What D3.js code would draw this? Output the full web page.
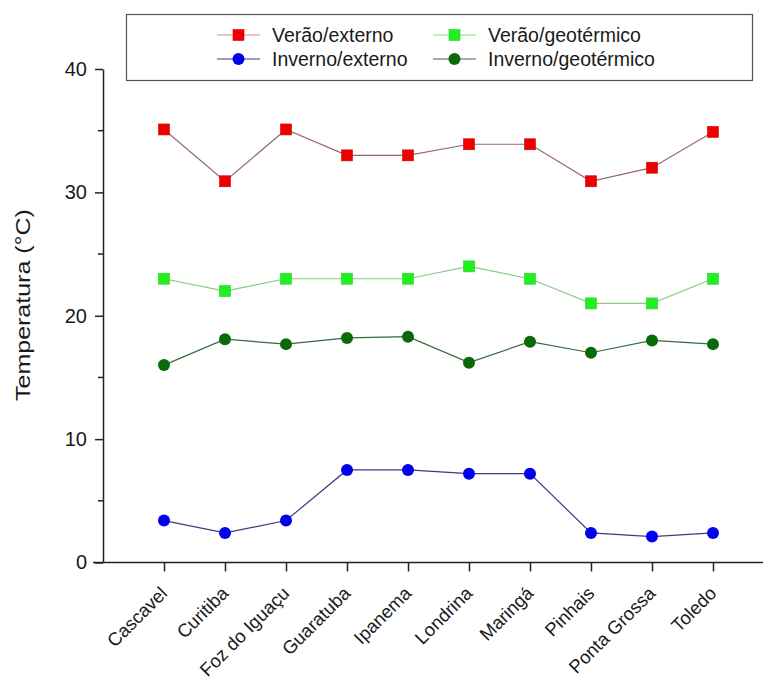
<!DOCTYPE html>
<html>
<head>
<meta charset="utf-8">
<script src="https://cdn.jsdelivr.net/npm/d3@7"></script>
<style>
  body { margin: 0; background: #fff; }
  text { font-family: "Liberation Sans", Arial, sans-serif; fill: #1a1a1a; }
</style>
</head>
<body>
<div id="chart"></div>
<script>
var cities = ["Cascavel", "Curitiba", "Foz do Iguaçu", "Guaratuba", "Ipanema", "Londrina", "Maringá", "Pinhais", "Ponta Grossa", "Toledo"];
var veraoExterno = [35.1, 30.9, 35.1, 33.0, 33.0, 33.9, 33.9, 30.9, 32.0, 34.9];
var veraoGeo = [23, 22, 23, 23, 23, 24, 23, 21, 21, 23];
var invernoExterno = [3.4, 2.4, 3.4, 7.5, 7.5, 7.2, 7.2, 2.4, 2.1, 2.4];
var invernoGeo = [16.0, 18.1, 17.7, 18.2, 18.3, 16.2, 17.9, 17.0, 18.0, 17.7];
var yTicks = [0, 10, 20, 30, 40];
var yMinor = [5, 15, 25, 35];

var series = [
  {name: "Verão/externo", values: veraoExterno, shape: "square", fill: "#ee0000", line: "#9a6868", legLine: "#d88a8a"},
  {name: "Verão/geotérmico", values: veraoGeo, shape: "square", fill: "#22ee22", line: "#88cc88", legLine: "#88dd88"},
  {name: "Inverno/externo", values: invernoExterno, shape: "circle", fill: "#0000ee", line: "#3a3a80", legLine: "#3a3a80"},
  {name: "Inverno/geotérmico", values: invernoGeo, shape: "circle", fill: "#0a6a0a", line: "#3a6a3a", legLine: "#3a6a3a"}
];

var width = 763, height = 682;
var svg = d3.select("#chart").append("svg")
  .attr("width", width).attr("height", height);

var x = d3.scalePoint().domain(cities).range([103, 774]).padding(1);
var y = d3.scaleLinear().domain([0, 40]).range([562.5, 69]);

// x axis
var xAxis = svg.append("g")
  .attr("transform", "translate(0," + y(0) + ")")
  .call(d3.axisBottom(x).tickSize(9).tickSizeOuter(0));
xAxis.select(".domain").attr("d", "M93,0H774").attr("stroke", "#222").attr("stroke-width", 1.5);
xAxis.selectAll(".tick line").attr("stroke", "#222").attr("stroke-width", 1.5);
xAxis.selectAll(".tick text")
  .attr("font-size", 18.5).attr("font-family", "Liberation Sans, Arial, sans-serif").attr("fill", "#1a1a1a")
  .attr("text-anchor", "end")
  .attr("transform", "translate(4,32) rotate(-45)")
  .attr("dy", 0).attr("y", 0).attr("x", 0);

// y axis
var yAxis = svg.append("g")
  .attr("transform", "translate(103,0)")
  .call(d3.axisLeft(y).tickValues(yTicks).tickSize(8).tickSizeOuter(0).tickPadding(8));
yAxis.select(".domain").attr("stroke", "#222").attr("stroke-width", 1.5);
yAxis.selectAll(".tick line").attr("stroke", "#222").attr("stroke-width", 1.5);
yAxis.selectAll(".tick text").attr("font-size", 20).attr("font-family", "Liberation Sans, Arial, sans-serif").attr("fill", "#1a1a1a");

svg.append("g").selectAll("line").data(yMinor).enter().append("line")
  .attr("x1", 98).attr("x2", 103)
  .attr("y1", function(d){ return y(d); }).attr("y2", function(d){ return y(d); })
  .attr("stroke", "#222").attr("stroke-width", 1.5);

svg.append("text")
  .attr("transform", "translate(30,305) rotate(-90) scale(1.25,1)")
  .attr("text-anchor", "middle")
  .attr("font-size", 20)
  .text("Temperatura (°C)");

var line = d3.line()
  .x(function(d, i){ return x(cities[i]); })
  .y(function(d){ return y(d); });

function drawMarker(g, shape, fill, cx, cy) {
  if (shape == "square") {
    g.append("rect").attr("x", cx - 5.5).attr("y", cy - 5.5).attr("width", 11).attr("height", 11)
      .attr("fill", fill).attr("stroke", d3.color(fill).darker(0.3)).attr("stroke-width", 0.6);
  } else {
    g.append("circle").attr("cx", cx).attr("cy", cy).attr("r", 6)
      .attr("fill", fill);
  }
}

series.forEach(function(s){
  svg.append("path")
    .datum(s.values)
    .attr("d", line)
    .attr("fill", "none")
    .attr("stroke", s.line)
    .attr("stroke-width", 1.2);
  var g = svg.append("g");
  s.values.forEach(function(v, i){
    drawMarker(g, s.shape, s.fill, x(cities[i]), y(v));
  });
});

// legend
svg.append("rect")
  .attr("x", 126.5).attr("y", 14.5).attr("width", 626).attr("height", 66)
  .attr("fill", "#fff").attr("stroke", "#555").attr("stroke-width", 1.2);

var legendPos = [[217, 35], [433, 35], [217, 59], [433, 59]];
series.forEach(function(s, i){
  var lx = legendPos[i][0], ly = legendPos[i][1];
  var g = svg.append("g");
  g.append("line").attr("x1", lx).attr("x2", lx + 43).attr("y1", ly).attr("y2", ly)
    .attr("stroke", s.legLine).attr("stroke-width", 1.2);
  drawMarker(g, s.shape, s.fill, lx + 21.5, ly);
  g.append("text").attr("x", lx + 55).attr("y", ly).attr("dy", "0.35em")
    .attr("font-size", 19.5).text(s.name);
});
</script>
</body>
</html>
